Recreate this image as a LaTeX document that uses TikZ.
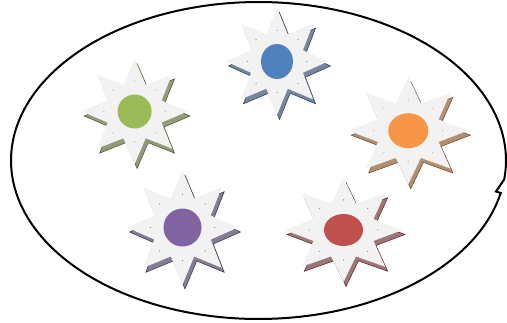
\documentclass[tikz,border=0pt]{standalone}
\usetikzlibrary{shapes.geometric}
\definecolor{cgreen}{HTML}{9BBB59}
\definecolor{cblue}{HTML}{4F81BD}
\definecolor{corange}{HTML}{F79646}
\definecolor{cpurple}{HTML}{8064A2}
\definecolor{cred}{HTML}{C0504D}
\definecolor{starfill}{HTML}{F2F2F2}
% #1 cx, #2 cy, #3 rx, #4 ry, #5 colour, #6 disc width, #7 disc height, #8 name
\newcommand{\mystar}[8]{%
  \fill[#5!55!black!65!white, draw=#5!45!black, line width=0.5pt]
    plot[samples at={0,...,15}]
    ({#1+2.5+#3*(1-0.45*mod(\x,2))*cos(90+22.5*\x)},{#2+4.5-#4*(1-0.45*mod(\x,2))*sin(90+22.5*\x)}) -- cycle;
  \fill[starfill]
    plot[samples at={0,...,15}]
    ({#1+#3*(1-0.45*mod(\x,2))*cos(90+22.5*\x)},{#2-#4*(1-0.45*mod(\x,2))*sin(90+22.5*\x)}) -- cycle;
  \foreach \a in {0,45,...,315}
    \fill[#5!75!white] ({#1+0.58*#3*cos(\a)},{#2-0.58*#4*sin(\a)}) circle[radius=0.7];
  \node[disc, fill=#5, minimum width=#6pt, minimum height=#7pt] (#8) at (#1,#2) {};
}
\tikzset{disc/.style={ellipse, inner sep=0pt, draw=none}}
\begin{document}
\begin{tikzpicture}[x=1pt,y=-1pt]
\useasboundingbox (0,0) rectangle (507,322);
% speech bubble
\draw[line width=2pt, line join=miter]
  plot[domain=11.83:366.8, samples=240]
  ({258.5+247.5*cos(\x)},{160.5+158.5*sin(\x)}) -- (496,191.5) -- cycle;
% stars
\mystar{134.6}{111.5}{53}{52.5}{cgreen}{34}{34}{green}
\mystar{277}{61.5}{51}{53.5}{cblue}{32}{35}{blue}
\mystar{408.3}{130.7}{59.6}{53.5}{corange}{40}{35}{orange}
\mystar{182.5}{227.5}{55.5}{57}{cpurple}{38}{38}{purple}
\mystar{343.5}{230}{59}{52}{cred}{39}{32}{red}
\end{tikzpicture}
\end{document}
